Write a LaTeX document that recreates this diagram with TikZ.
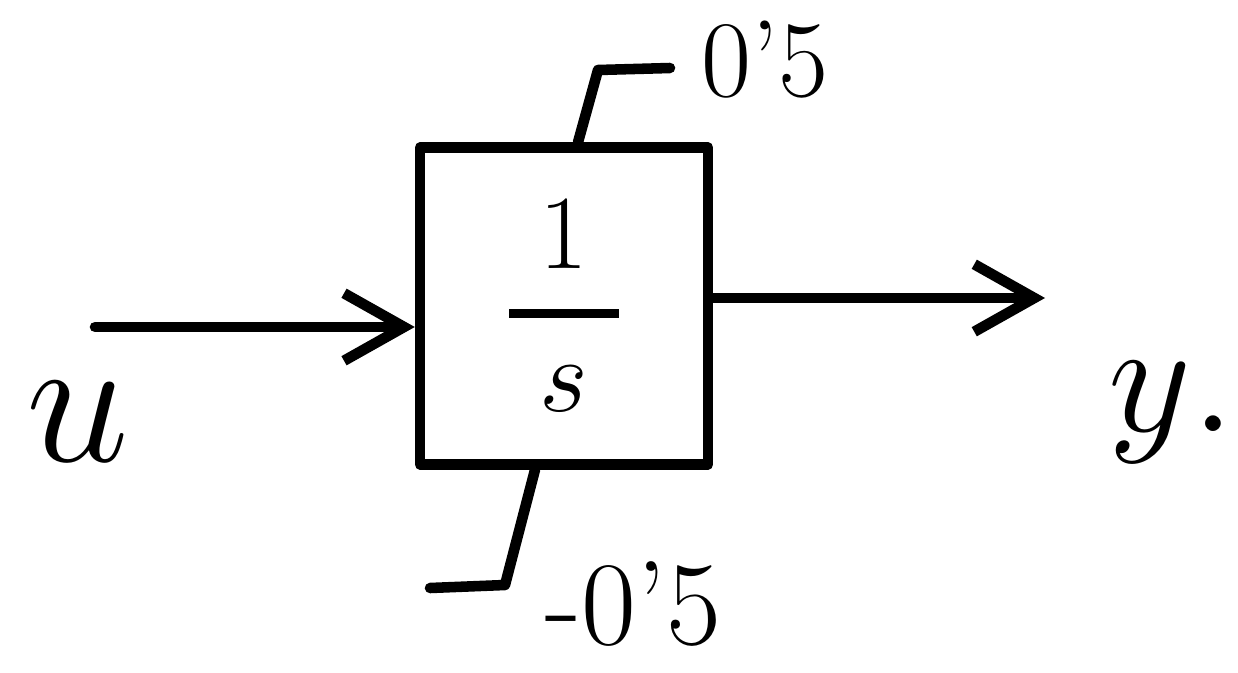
\documentclass[tikz,border=0pt]{standalone}
\usepackage{fix-cm}
\usepackage{amsmath}
\usetikzlibrary{arrows.meta}
\begin{document}
\begin{tikzpicture}[x=0.02cm,y=-0.02cm,line width=6pt,line cap=round,line join=round,
    sig/.style={-{Straight Barb[length=1.2cm,width=1.35cm]}},
    block/.style={draw,minimum width=5.76cm,minimum height=6.34cm,inner sep=0pt}]
  \useasboundingbox (0,0) rectangle (1238,673);
  % integrator block with its saturation limits
  \node[block,font=\fontsize{60}{70}\selectfont] (integ) at (564,306)
    {$\genfrac{}{}{5pt}{0}{\makebox[2.2cm]{$1$}}{s}$};
  \coordinate (ustart) at (95,327);
  \coordinate (yend) at (1045,298);
  \draw[sig] (ustart) -- (integ.west |- ustart);
  \draw[sig] (integ.east |- yend) -- (yend);
  \node[font=\fontsize{105}{115}\selectfont] (ulab) at (78,422) {$u$};
  \node[font=\fontsize{92}{100}\selectfont] (ylab) at (1172,412) {$y.$};
  % upper limit
  \coordinate (hi) at (598,70);
  \coordinate (hiend) at (670,68);
  \draw ([xshift=0.28cm]integ.north) -- (hi) -- (hiend);
  \node[font=\fontsize{62}{68}\selectfont,anchor=west] (hilab) at (690,60) {0'5};
  % lower limit
  \coordinate (lo) at (505,585);
  \coordinate (loend) at (430,588);
  \draw ([xshift=-0.58cm]integ.south) -- (lo) -- (loend);
  \node[font=\fontsize{68}{74}\selectfont,anchor=west,inner sep=0pt] (lolab) at (540,604) {-0'5};
\end{tikzpicture}
\end{document}
